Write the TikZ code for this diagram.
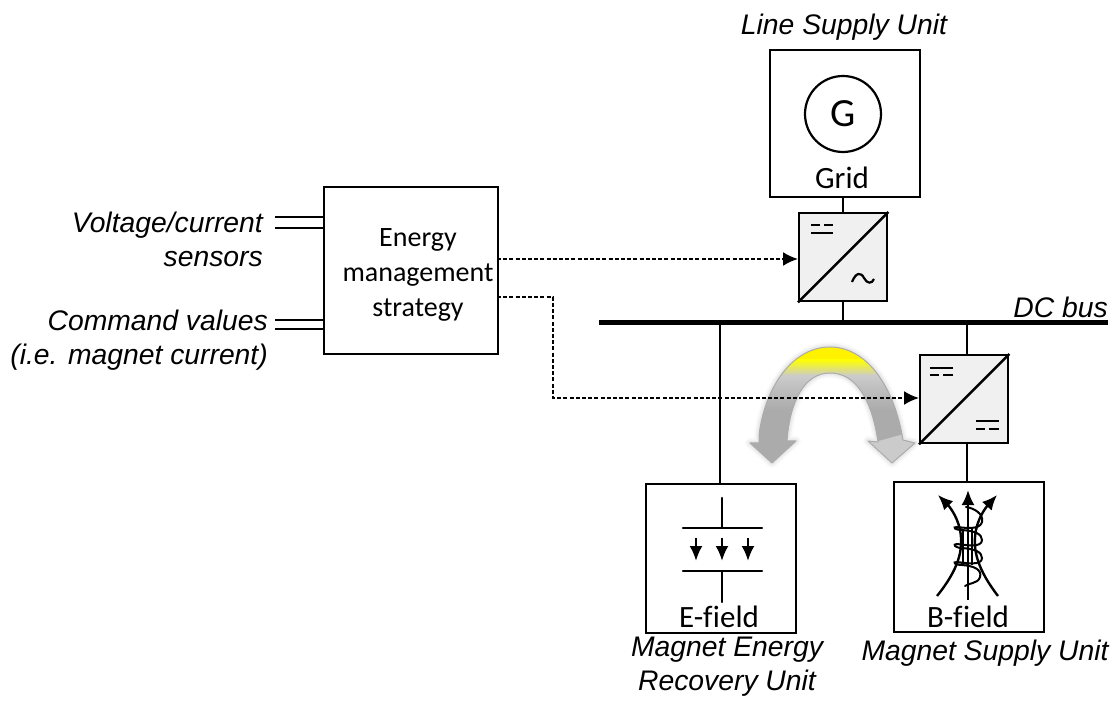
\documentclass[tikz,border=0pt]{standalone}
\usepackage{fontspec}
\setmainfont{Carlito}
\newfontfamily\arialit[ItalicFont={Liberation Sans Italic}]{Liberation Sans}
\usetikzlibrary{arrows.meta,calc}
\definecolor{convfill}{HTML}{F0F0F0}
\definecolor{arcgray}{HTML}{ABABAB}
\definecolor{arclight}{HTML}{CBCBCB}
\tikzset{
 x=1pt,y=-1pt,
 wire/.style={line width=2.4pt,draw=black},
 boxn/.style={draw=black,line width=2.4pt,fill=white,inner sep=0pt,anchor=north west},
 conv/.style={draw=black,line width=2.4pt,fill=convfill,inner sep=0pt,anchor=north west,minimum width=88pt,minimum height=88pt},
 ctrl/.style={line width=2pt,dash pattern=on 4pt off 2.2pt,-{Latex[length=15pt,width=14pt]}},
 itl/.style={font=\arialit\itshape\fontsize{28.3}{34}\selectfont,inner sep=0pt,align=center},
 cal/.style={font=\fontsize{31}{36}\selectfont,inner sep=0pt,align=center},
 emstext/.style={font=\fontsize{28}{35}\selectfont,inner sep=0pt,align=center},
 fieldarrow/.style={line width=2.4pt,-{Latex[length=15pt,width=13pt]}},
 fieldline/.style={line width=2.4pt,line cap=round},
 coil/.style={line width=2pt,line cap=round},
 sym/.style={line width=2.2pt},
}
\begin{document}
\begin{tikzpicture}
\useasboundingbox (0,0) rectangle (1112,703);
% boxes
\node[boxn,minimum width=150pt,minimum height=147pt] (grid) at (769,49) {};
\node[boxn,minimum width=174pt,minimum height=167pt] (ems) at (323,186) {};
\node[boxn,minimum width=150pt,minimum height=149pt] (efield) at (645,483) {};
\node[boxn,minimum width=150pt,minimum height=150pt] (bfield) at (893,481) {};
\node[conv] (inv) at (798,212) {};
\node[conv] (dcdc) at (919,354) {};
\draw[line width=2.4pt] (inv.south west) -- (inv.north east);
\draw[line width=2.4pt] (dcdc.south west) -- (dcdc.north east);
% bus
\coordinate (busL) at (599,323);
\coordinate (busR) at (1108,323);
\draw[line width=5pt] (busL) -- (busR);
% wiring
\coordinate (gridS) at (843,196);
\coordinate (invT) at (843,212);
\coordinate (invB) at (843,300);
\coordinate (busA) at (843,323);
\coordinate (busB) at (720,323);
\coordinate (busC) at (967,323);
\coordinate (dcT) at (967,354);
\coordinate (dcB) at (967,442);
\coordinate (bT) at (967,481);
\coordinate (eT) at (720,483);
\draw[wire] (gridS) -- (invT);
\draw[wire] (invB) -- (busA);
\draw[wire] (busB) -- (eT);
\draw[wire] (busC) -- (dcT);
\draw[wire] (dcB) -- (bT);
% inputs
\coordinate (i1a) at (275,217); \coordinate (i1b) at (323,217);
\coordinate (i2a) at (275,228); \coordinate (i2b) at (323,228);
\coordinate (i3a) at (275,320); \coordinate (i3b) at (323,320);
\coordinate (i4a) at (275,329); \coordinate (i4b) at (323,329);
\draw[wire] (i1a)--(i1b);
\draw[wire] (i2a)--(i2b);
\draw[wire] (i3a)--(i3b);
\draw[wire] (i4a)--(i4b);
% arc arrow with glow
\def\arcpath{(750,443) -- (759,443) .. controls (759,437) and (759,434) .. (760,428)
 .. controls (768,382) and (795,347) .. (830,347)
 .. controls (866,347) and (894,385) .. (903,440) -- (915,443) -- (892,463) -- (868,441) -- (878,442)
 .. controls (872,400) and (856,373) .. (830,373)
 .. controls (805,373) and (790,400) .. (787,441) -- (796,441) -- (772,463) -- cycle}
\foreach \w/\o in {10/0.02,7/0.03,4/0.04}{
 \draw[black,opacity=\o,line width=\w pt,line join=round] \arcpath;
}
\begin{scope}
 \clip \arcpath;
 \fill[arcgray] (740,340) rectangle (925,470);
 \fill[yellow] (740,340) rectangle (925,360);
 \shade[top color=yellow,bottom color=arclight] (740,359.5) rectangle (925,376);
 \shade[top color=arclight,bottom color=arcgray] (740,375.5) rectangle (925,410);
 \fill[arclight] (875,442) -- (904,434) -- (925,445) -- (892,470) -- (860,441) -- cycle;
\end{scope}
\draw[arcgray,line width=1pt,line join=round] \arcpath;
% control lines
\coordinate (c1s) at (497,259); \coordinate (c1e) at (798,259);
\coordinate (c2s) at (497,297); \coordinate (c2m) at (553,297); \coordinate (c2n) at (553,398); \coordinate (c2e) at (919,398);
\draw[ctrl] (c1s) -- (c1e);
\draw[ctrl] (c2s) -- (c2m) -- (c2n) -- (c2e);
% generator
\node[draw=black,line width=2.2pt,circle,minimum size=76pt,inner sep=0pt,font=\fontsize{40}{44}\selectfont] (gen) at (843,114) {G};
\node[cal] (gridl) at (842,178) {Grid};
% converter symbols
\draw[sym] (811,225) -- +(9,0) (824,225) -- +(9,0);
\draw[sym] (811,233) -- +(22,0);
\draw[sym] (852,282) .. controls (856,272) and (861,272) .. (864,278) .. controls (867,284) and (872,284) .. (874,279);
\draw[sym] (930,368) -- +(23,0);
\draw[sym] (930,375) -- +(9,0) (943,375) -- +(10,0);
\draw[sym] (976,421) -- +(23,0);
\draw[sym] (976,429) -- +(9,0) (989,429) -- +(10,0);
% E-field icon
\draw[fieldline] (722,498) -- (722,528);
\draw[fieldline] (683,528) -- (762,528);
\draw[fieldline] (683,571) -- (762,571);
\draw[fieldline] (722,571) -- (722,602);
\draw[fieldarrow] (696,538) -- (696,561);
\draw[fieldarrow] (722,538) -- (722,561);
\draw[fieldarrow] (748,538) -- (748,561);
\node[cal] (el) at (719,617) {E-f\kern0.5pt ield};
% B-field icon
\draw[fieldarrow] (968,600) -- (968,490);
\draw[fieldarrow] (937,596) .. controls (958,570) and (964,550) .. (960,530) .. controls (957,515) and (948,505) .. (938,495);
\draw[fieldarrow] (998,596) .. controls (978,570) and (972,550) .. (976,530) .. controls (979,515) and (988,505) .. (997,495);
\draw[coil] (966,507) .. controls (974,508) and (984,514) .. (982,522) .. controls (980,530) and (966,528) .. (957,527) .. controls (952,527) and (955,530) .. (962,530)
 .. controls (975,531) and (982,534) .. (982,540) .. controls (982,548) and (966,545) .. (957,544) .. controls (952,544) and (955,548) .. (962,548)
 .. controls (975,549) and (982,552) .. (982,558) .. controls (982,566) and (966,563) .. (957,562) .. controls (952,562) and (955,565) .. (962,565)
 .. controls (975,566) and (982,570) .. (980,577) .. controls (978,584) and (968,583) .. (965,586);
\draw[line width=1.6pt] (963,529) -- (963,565) (972,529) -- (972,565);
\node[cal] (bl) at (968,617) {B-f\kern0.5pt ield};
% labels
\node[emstext] (emsl) at (418,275) {Energy\\management\\strategy};
\node[itl] (l1) at (844,27) {Line Supply Unit};
\node[itl,anchor=east] (l2) at (1108,307) {DC bus};
\node[itl,align=right,anchor=east] (l3) at (263,239) {Voltage/current\\sensors};
\node[itl,align=right,anchor=east] (l4) at (268,340) {Command values\\(i.e. magnet current)};
\node[itl] (l5) at (727,667) {Magnet Energy\\Recovery Unit};
\node[itl] (l6) at (985,653) {Magnet Supply Unit};
\end{tikzpicture}
\end{document}
